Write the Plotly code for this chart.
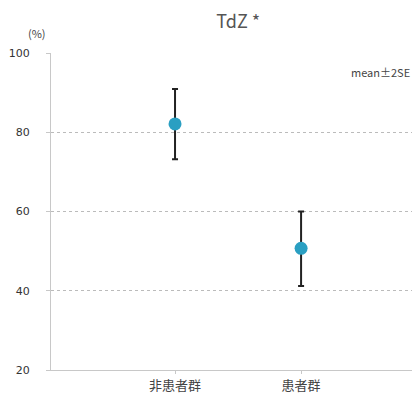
import plotly.graph_objects as go

categories = ["非患者群", "患者群"]
means = [82.1, 50.7]
upper = [90.9, 60.0]
lower = [73.2, 41.2]

xpos = [1, 2]
err_plus = [u - m for u, m in zip(upper, means)]
err_minus = [m - l for m, l in zip(means, lower)]

fig = go.Figure()
fig.add_trace(go.Scatter(
    x=xpos, y=means, mode="markers",
    marker=dict(color="#2a9fc2", size=13),
    error_y=dict(type="data", symmetric=False, array=err_plus, arrayminus=err_minus,
                 color="#222222", thickness=2, width=3),
    showlegend=False,
))

fig.update_layout(
    width=404, height=385,
    margin=dict(l=43, r=0, t=45, b=23),
    paper_bgcolor="white", plot_bgcolor="white",
    font=dict(family="Noto Sans CJK JP, Noto Sans, sans-serif", color="#444444"),
    title=dict(text="TdZ *", x=0.57, xanchor="center", y=0.965, yanchor="middle",
               font=dict(size=18, color="#555555")),
    xaxis=dict(range=[0.016, 2.88], tickvals=xpos, ticktext=categories,
               showgrid=False, zeroline=False, showline=True, linecolor="#c8c8c8",
               linewidth=1, ticks="outside", ticklen=3, tickcolor="#c8c8c8",
               tickfont=dict(size=13, color="#444444"), ticklabelstandoff=0,
               automargin=False),
    yaxis=dict(range=[20, 100], tickvals=[20, 40, 60, 80, 100],
               showgrid=True, gridcolor="#bbbbbb", griddash="dot", gridwidth=1,
               zeroline=False, showline=True, linecolor="#c8c8c8", linewidth=1,
               ticks="outside", ticklen=4, tickcolor="#c8c8c8",
               tickfont=dict(size=11, color="#333333", family="DejaVu Sans"),
               ticklabelstandoff=14, automargin=False),
    annotations=[
        dict(text="(%)", xref="paper", yref="paper", x=-0.04, y=1.03,
             xanchor="center", yanchor="bottom", showarrow=False,
             font=dict(size=11, color="#444444")),
        dict(text="mean±2SE", xref="paper", yref="paper", x=1.0, y=0.94,
             xanchor="right", yanchor="middle", showarrow=False,
             font=dict(size=11, color="#444444")),
    ],
)

fig.write_html("out.html")
